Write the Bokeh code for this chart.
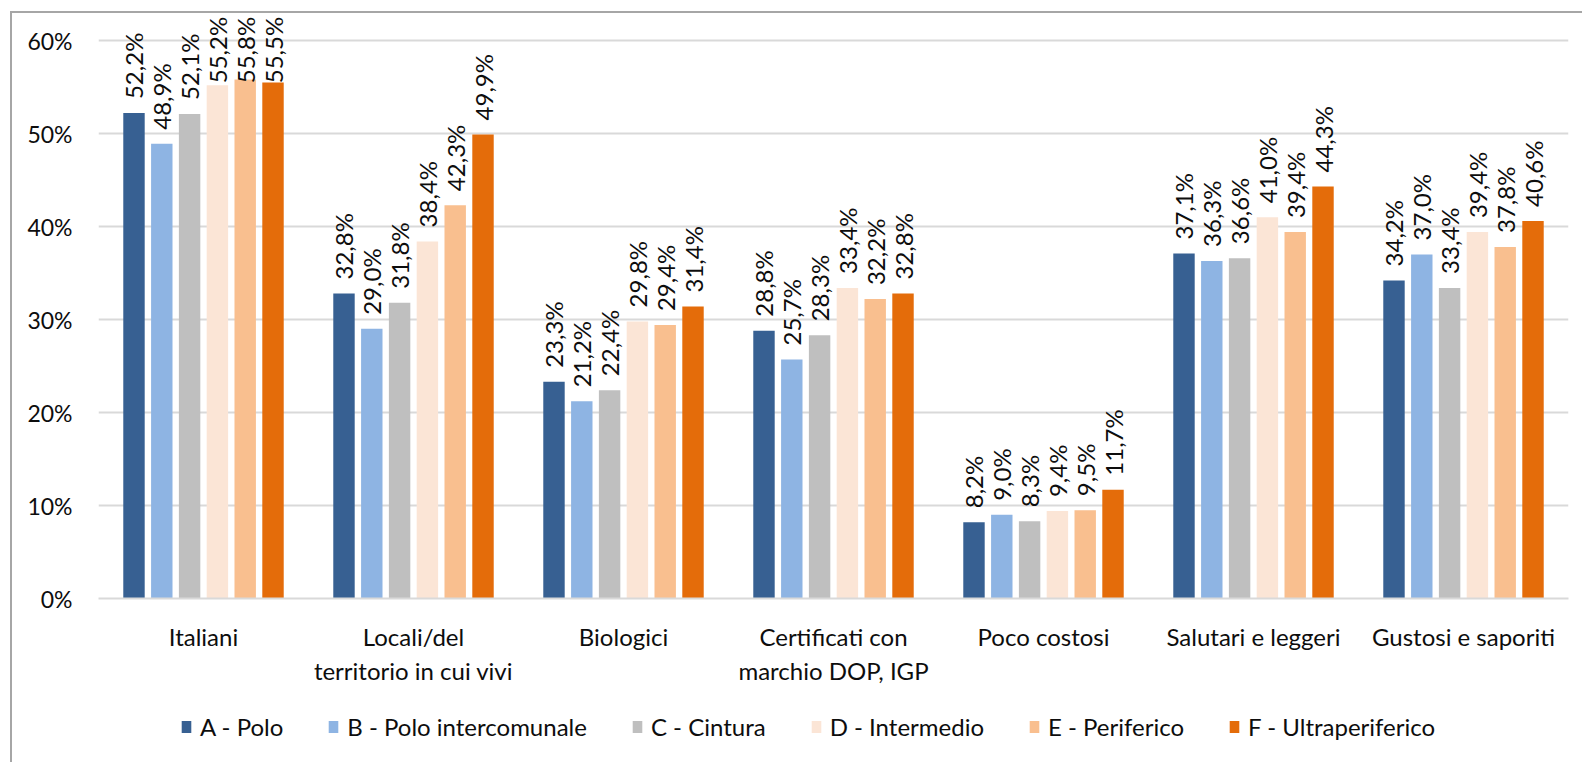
import math
from bokeh.plotting import figure
from bokeh.layouts import column
from bokeh.models import (ColumnDataSource, FixedTicker, NumeralTickFormatter, LinearAxis,
                          Legend, LegendItem, Range1d, InlineStyleSheet)
from bokeh.core.properties import value
from bokeh.embed import file_html
from bokeh.resources import INLINE

# ---------------- data ----------------
categories_line1 = ["Italiani", "Locali/del", "Biologici", "Certificati con",
                    "Poco costosi", "Salutari e leggeri", "Gustosi e saporiti"]
categories_line2 = ["", "territorio in cui vivi", "", "marchio DOP, IGP", "", "", ""]

series_names = ["A - Polo", "B - Polo intercomunale", "C - Cintura",
                "D - Intermedio", "E - Periferico", "F - Ultraperiferico"]
series_colors = ["#376092", "#8EB4E3", "#BFBFBF", "#FBE5D6", "#F9BF8F", "#E46C0A"]

A_polo = [52.2, 32.8, 23.3, 28.8, 8.2, 37.1, 34.2]
B_polo_intercomunale = [48.9, 29.0, 21.2, 25.7, 9.0, 36.3, 37.0]
C_cintura = [52.1, 31.8, 22.4, 28.3, 8.3, 36.6, 33.4]
D_intermedio = [55.2, 38.4, 29.8, 33.4, 9.4, 41.0, 39.4]
E_periferico = [55.8, 42.3, 29.4, 32.2, 9.5, 39.4, 37.8]
F_ultraperiferico = [55.5, 49.9, 31.4, 32.8, 11.7, 44.3, 40.6]

y_tick_values = [0.0, 0.1, 0.2, 0.3, 0.4, 0.5, 0.6]

series_values = [A_polo, B_polo_intercomunale, C_cintura,
                 D_intermedio, E_periferico, F_ultraperiferico]

# ---------------- main chart ----------------
FONT = "Lato"
TEXT_COLOR = "#0d0d0d"
LABEL_CAP = 0.539   # labels that would leave the plot area are pushed down (as Excel does)
BORDER = "#a6a6a6"

p = figure(frame_width=1470, frame_height=584,
           min_border_left=98, min_border_right=14, min_border_top=14, min_border_bottom=102,
           x_range=Range1d(-0.5, 6.5), y_range=Range1d(0, 0.628),
           output_backend="svg", toolbar_location=None)
p.background_fill_color = "white"
p.border_fill_color = "white"
p.outline_line_color = None
p.xgrid.grid_line_color = None
p.ygrid.grid_line_color = "#d9d9d9"
p.ygrid.grid_line_width = 2
p.ygrid.ticker = FixedTicker(ticks=y_tick_values)

pitch = 0.1324
bar_w = 0.102
for i, (name, vals, col) in enumerate(zip(series_names, series_values, series_colors)):
    xs = [g + (i - 2.5) * pitch for g in range(len(vals))]
    src = ColumnDataSource(dict(
        x=xs,
        top=[v / 100 for v in vals],
        label_y=[min(v / 100, LABEL_CAP) for v in vals],
        label=[f"{v:.1f}".replace(".", ",") + "%" for v in vals],
    ))
    p.vbar(x="x", top="top", width=bar_w, source=src, fill_color=col, line_color=None)
    p.text(x="x", y="label_y", text="label", source=src, angle=math.pi / 2,
           text_align="left", text_baseline="middle", y_offset=-14, x_offset=0,
           text_font=value(FONT), text_font_size="24px", text_color=TEXT_COLOR)

# x axis: first line
xa = p.xaxis[0]
xa.ticker = FixedTicker(ticks=list(range(len(categories_line1))))
xa.major_label_overrides = {i: t for i, t in enumerate(categories_line1)}
xa.major_tick_line_color = None
xa.major_tick_out = 0
xa.major_tick_in = 0
xa.minor_tick_line_color = None
xa.axis_line_color = "#d9d9d9"
xa.axis_line_width = 2
xa.major_label_standoff = 23
xa.major_label_text_font = FONT
xa.major_label_text_font_size = "24px"
xa.major_label_text_color = TEXT_COLOR

# x axis: second line
xa2 = LinearAxis(ticker=FixedTicker(ticks=list(range(len(categories_line2)))))
xa2.major_label_overrides = {i: (t if t else " ") for i, t in enumerate(categories_line2)}
xa2.major_tick_line_color = None
xa2.major_tick_out = 0
xa2.major_tick_in = 0
xa2.minor_tick_line_color = None
xa2.axis_line_color = None
xa2.major_label_standoff = 2
xa2.major_label_text_font = FONT
xa2.major_label_text_font_size = "24px"
xa2.major_label_text_color = TEXT_COLOR
p.add_layout(xa2, "below")

# y axis
ya = p.yaxis[0]
ya.ticker = FixedTicker(ticks=y_tick_values)
ya.formatter = NumeralTickFormatter(format="0%")
ya.axis_line_color = None
ya.major_tick_line_color = None
ya.major_tick_out = 0
ya.major_tick_in = 0
ya.minor_tick_line_color = None
ya.major_label_standoff = 26
ya.major_label_text_font = FONT
ya.major_label_text_font_size = "23px"
ya.major_label_text_color = TEXT_COLOR

p.stylesheets = [InlineStyleSheet(css=f"""
:host {{ position: relative; }}
:host::after {{ content: ''; position: absolute; left: 10px; top: 11px; width: 3000px; height: 3000px;
  border: 2px solid {BORDER}; pointer-events: none; box-sizing: border-box; }}
""")]

# ---------------- legend strip ----------------
lg = figure(width=1582, height=62, min_border=0,
            x_range=Range1d(0, 1), y_range=Range1d(0, 1),
            x_axis_location=None, y_axis_location=None,
            output_backend="svg", toolbar_location=None)
lg.background_fill_color = "white"
lg.border_fill_color = "white"
lg.outline_line_color = None
lg.grid.visible = False
legend_renderers = []
for name, col in zip(series_names, series_colors):
    # one proxy bar outside the visible range: only its legend swatch is shown
    proxy = ColumnDataSource(dict(x=[-10], top=[0]))
    legend_renderers.append(lg.vbar(x="x", top="top", width=0.1, source=proxy,
                                    fill_color=col, line_color=None))
legend = Legend(items=[LegendItem(label=n, renderers=[r]) for n, r in zip(series_names, legend_renderers)],
                orientation="horizontal", location=(82, 21),
                glyph_width=12, glyph_height=15, label_standoff=8, spacing=44,
                padding=0, margin=0, border_line_color=None, background_fill_alpha=0,
                label_text_font=FONT, label_text_font_size="24px", label_height=29,
                label_text_color=TEXT_COLOR)
lg.add_layout(legend, "center")
lg.stylesheets = [InlineStyleSheet(css=f"""
:host {{ position: relative; }}
:host::after {{ content: ''; position: absolute; left: 10px; top: 0px; width: 2px; height: 3000px;
  background: {BORDER}; pointer-events: none; }}
""")]

layout = column(p, lg, spacing=0)
open("out.html", "w").write(file_html(layout, INLINE))
